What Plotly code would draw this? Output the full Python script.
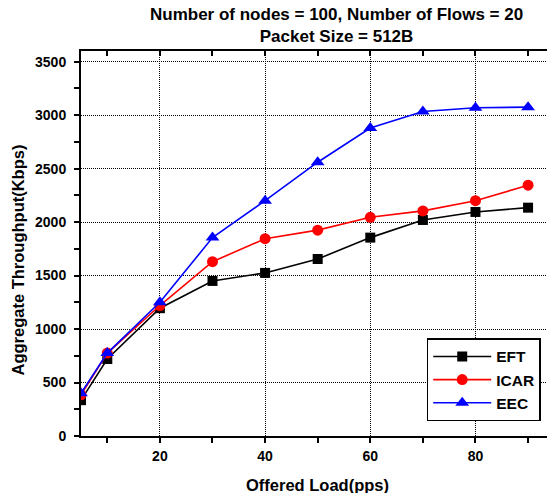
import plotly.graph_objects as go

# Offered load (packets per second)
offered_load = [5, 10, 20, 30, 40, 50, 60, 70, 80, 90]

# Aggregate throughput (Kbps) per protocol
eft = [335, 720, 1195, 1450, 1525, 1655, 1855, 2020, 2095, 2135]
icar = [385, 775, 1220, 1630, 1845, 1925, 2045, 2105, 2200, 2345]
eec = [400, 775, 1250, 1855, 2200, 2560, 2880, 3035, 3070, 3075]

series_names = ["EFT", "ICAR", "EEC"]
series_colors = ["#000000", "#FF0000", "#0000FF"]
series_symbols = ["square", "circle", "triangle-up"]
series_sizes = [10, 11, 12]

title_lines = ["Number of nodes = 100, Number of Flows = 20", "Packet Size = 512B"]
x_title = "Offered Load(pps)"
y_title = "Aggregate Throughput(Kbps)"

FONT = "Liberation Sans, Arial, sans-serif"

fig = go.Figure()
for name, vals, col, sym, sz in zip(series_names, [eft, icar, eec], series_colors,
                                    series_symbols, series_sizes):
    fig.add_trace(go.Scatter(
        x=offered_load, y=vals, name=name, mode="lines+markers",
        line=dict(color=col, width=1.6),
        marker=dict(symbol=sym, size=sz, color=col, line=dict(width=0)),
    ))

# empty trace so the top frame axis is drawn
fig.add_trace(go.Scatter(x=[], y=[], xaxis="x2", showlegend=False, hoverinfo="skip"))

axis_font = dict(family=FONT, size=14, color="black")

fig.update_layout(
    width=547, height=493,
    margin=dict(l=81, r=0, t=51, b=57),
    paper_bgcolor="white", plot_bgcolor="white",
    font=dict(family=FONT, color="black"),
    showlegend=True,
    legend=dict(
        x=0.9865, y=0.038, xanchor="right", yanchor="bottom",
        bgcolor="white", bordercolor="black", borderwidth=1.5,
        font=dict(family=FONT, size=15.5, color="black", weight="bold"),
        tracegroupgap=0, itemwidth=58,
    ),
    xaxis=dict(
        range=[5, 93.6], tick0=0, dtick=20,
        showline=True, linecolor="black", linewidth=2,
        ticks="outside", ticklen=5, tickwidth=1.5, tickcolor="black",
        tickfont=dict(axis_font, weight="bold"), ticklabelstandoff=1,
        showgrid=True, gridcolor="black", gridwidth=1, griddash="1px,1px",
        minor=dict(dtick=10, tick0=0, ticks="outside", ticklen=5, tickwidth=1.5,
                   tickcolor="black", showgrid=False),
        zeroline=False,
    ),
    xaxis2=dict(
        overlaying="x", side="top", range=[5, 93.6], tick0=0, dtick=10,
        showline=True, linecolor="black", linewidth=2,
        ticks="inside", ticklen=5, tickwidth=1.5, tickcolor="black",
        showticklabels=False, showgrid=False, zeroline=False,
    ),
    yaxis=dict(
        range=[0, 3600], tick0=0, dtick=500,
        showline=True, linecolor="black", linewidth=2,
        ticks="outside", ticklen=5, tickwidth=1.5, tickcolor="black",
        tickfont=dict(axis_font, weight="bold"), ticklabelstandoff=5,
        showgrid=True, gridcolor="black", gridwidth=1, griddash="1px,1px",
        minor=dict(dtick=250, tick0=0, ticks="outside", ticklen=5, tickwidth=1.5,
                   tickcolor="black", showgrid=False),
        zeroline=False,
    ),
    annotations=[
        dict(text="<b>" + title_lines[0] + "</b><br><b>" + title_lines[1] + "</b>",
             xref="paper", yref="paper", x=0.549, y=1.0, yshift=3,
             xanchor="center", yanchor="bottom", showarrow=False, align="center",
             font=dict(family=FONT, size=17, color="black")),
        dict(text="<b>" + x_title + "</b>", xref="paper", yref="paper",
             x=0.508, y=-0.126, xanchor="center", yanchor="middle", showarrow=False,
             font=dict(family=FONT, size=16.5, color="black")),
        dict(text="<b>" + y_title + "</b>", xref="paper", yref="paper",
             x=-0.135, y=0.456, xanchor="center", yanchor="middle", showarrow=False,
             textangle=-90, font=dict(family=FONT, size=16.5, color="black")),
    ],
)

fig.write_html("out.html")
